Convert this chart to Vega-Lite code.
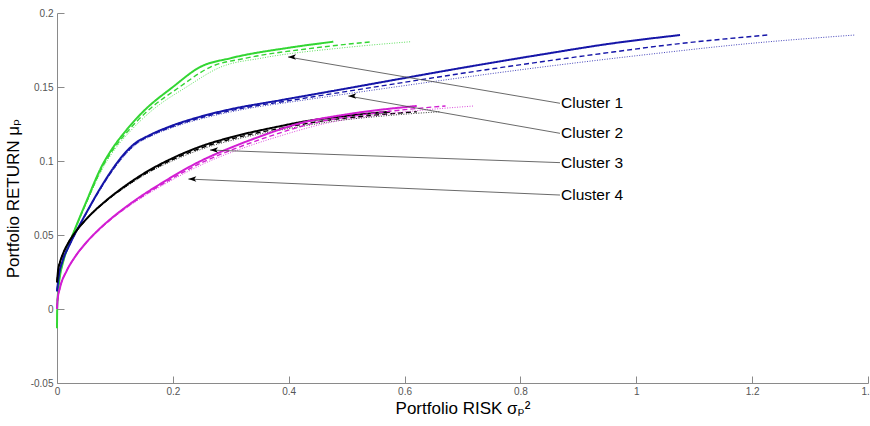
{
"$schema": "https://vega.github.io/schema/vega-lite/v6.json",
"width": 811, "height": 370,
"autosize": {"type": "none"},
"padding": {"left": 57, "top": 13, "right": 2, "bottom": 43},
"background": "white",
"config": {"view": {"stroke": null},
 "axis": {"grid": false, "domainColor": "#8a8a8a", "tickColor": "#8a8a8a", "tickSize": -7, "labelColor": "#555555", "labelFont": "Liberation Sans", "labelFontSize": 10, "titleFont": "Liberation Sans, DejaVu Sans", "titleFontSize": 17, "titleFontWeight": "normal", "titleColor": "#000000"}},
"datasets": {
"curves": [
{"c":"C1","s":"solid","x":0,"y":-0.013},{"c":"C1","s":"solid","x":0.0003,"y":0},{"c":"C1","s":"solid","x":0.002,"y":0.012},{"c":"C1","s":"solid","x":0.005,"y":0.022},{"c":"C1","s":"solid","x":0.01,"y":0.031},{"c":"C1","s":"solid","x":0.02,"y":0.043},{"c":"C1","s":"solid","x":0.031,"y":0.054},{"c":"C1","s":"solid","x":0.05,"y":0.072},{"c":"C1","s":"solid","x":0.08,"y":0.0985},{"c":"C1","s":"solid","x":0.0915,"y":0.106},{"c":"C1","s":"solid","x":0.12,"y":0.121},{"c":"C1","s":"solid","x":0.149,"y":0.1335},{"c":"C1","s":"solid","x":0.2,"y":0.15},{"c":"C1","s":"solid","x":0.247,"y":0.1635},{"c":"C1","s":"solid","x":0.3,"y":0.1695},{"c":"C1","s":"solid","x":0.4,"y":0.1765},{"c":"C1","s":"solid","x":0.477,"y":0.1806},
{"c":"C1","s":"dashed","x":0,"y":0},{"c":"C1","s":"dashed","x":0.002,"y":0.012},{"c":"C1","s":"dashed","x":0.005,"y":0.022},{"c":"C1","s":"dashed","x":0.01,"y":0.031},{"c":"C1","s":"dashed","x":0.0201,"y":0.043},{"c":"C1","s":"dashed","x":0.0313,"y":0.054},{"c":"C1","s":"dashed","x":0.0507,"y":0.072},{"c":"C1","s":"dashed","x":0.0819,"y":0.0985},{"c":"C1","s":"dashed","x":0.094,"y":0.106},{"c":"C1","s":"dashed","x":0.1242,"y":0.121},{"c":"C1","s":"dashed","x":0.1555,"y":0.1335},{"c":"C1","s":"dashed","x":0.2117,"y":0.15},{"c":"C1","s":"dashed","x":0.2649,"y":0.1635},{"c":"C1","s":"dashed","x":0.3264,"y":0.1695},{"c":"C1","s":"dashed","x":0.447,"y":0.1765},{"c":"C1","s":"dashed","x":0.5438,"y":0.1806},
{"c":"C1","s":"dotted","x":0,"y":0},{"c":"C1","s":"dotted","x":0.002,"y":0.012},{"c":"C1","s":"dotted","x":0.005,"y":0.022},{"c":"C1","s":"dotted","x":0.0101,"y":0.031},{"c":"C1","s":"dotted","x":0.0202,"y":0.043},{"c":"C1","s":"dotted","x":0.0316,"y":0.054},{"c":"C1","s":"dotted","x":0.0515,"y":0.072},{"c":"C1","s":"dotted","x":0.0838,"y":0.0985},{"c":"C1","s":"dotted","x":0.0964,"y":0.106},{"c":"C1","s":"dotted","x":0.1285,"y":0.121},{"c":"C1","s":"dotted","x":0.162,"y":0.1335},{"c":"C1","s":"dotted","x":0.2235,"y":0.15},{"c":"C1","s":"dotted","x":0.2828,"y":0.1635},{"c":"C1","s":"dotted","x":0.3528,"y":0.1695},{"c":"C1","s":"dotted","x":0.4939,"y":0.1765},{"c":"C1","s":"dotted","x":0.6106,"y":0.1806},
{"c":"C2","s":"solid","x":0,"y":0.012},{"c":"C2","s":"solid","x":0.003,"y":0.022},{"c":"C2","s":"solid","x":0.01,"y":0.033},{"c":"C2","s":"solid","x":0.02,"y":0.042},{"c":"C2","s":"solid","x":0.03,"y":0.05},{"c":"C2","s":"solid","x":0.045,"y":0.061},{"c":"C2","s":"solid","x":0.0627,"y":0.0735},{"c":"C2","s":"solid","x":0.08,"y":0.085},{"c":"C2","s":"solid","x":0.0915,"y":0.092},{"c":"C2","s":"solid","x":0.105,"y":0.0995},{"c":"C2","s":"solid","x":0.1317,"y":0.111},{"c":"C2","s":"solid","x":0.16,"y":0.1175},{"c":"C2","s":"solid","x":0.1894,"y":0.1225},{"c":"C2","s":"solid","x":0.247,"y":0.1299},{"c":"C2","s":"solid","x":0.3,"y":0.135},{"c":"C2","s":"solid","x":0.385,"y":0.141},{"c":"C2","s":"solid","x":0.5,"y":0.149},{"c":"C2","s":"solid","x":0.592,"y":0.1555},{"c":"C2","s":"solid","x":0.7,"y":0.163},{"c":"C2","s":"solid","x":0.845,"y":0.1725},{"c":"C2","s":"solid","x":0.95,"y":0.179},{"c":"C2","s":"solid","x":1.0755,"y":0.1851},
{"c":"C2","s":"dashed","x":0,"y":0.012},{"c":"C2","s":"dashed","x":0.003,"y":0.022},{"c":"C2","s":"dashed","x":0.01,"y":0.033},{"c":"C2","s":"dashed","x":0.0201,"y":0.042},{"c":"C2","s":"dashed","x":0.0301,"y":0.05},{"c":"C2","s":"dashed","x":0.0453,"y":0.061},{"c":"C2","s":"dashed","x":0.0632,"y":0.0735},{"c":"C2","s":"dashed","x":0.0808,"y":0.085},{"c":"C2","s":"dashed","x":0.0926,"y":0.092},{"c":"C2","s":"dashed","x":0.1064,"y":0.0995},{"c":"C2","s":"dashed","x":0.134,"y":0.111},{"c":"C2","s":"dashed","x":0.1633,"y":0.1175},{"c":"C2","s":"dashed","x":0.1941,"y":0.1225},{"c":"C2","s":"dashed","x":0.2549,"y":0.1299},{"c":"C2","s":"dashed","x":0.3117,"y":0.135},{"c":"C2","s":"dashed","x":0.4043,"y":0.141},{"c":"C2","s":"dashed","x":0.5326,"y":0.149},{"c":"C2","s":"dashed","x":0.6376,"y":0.1555},{"c":"C2","s":"dashed","x":0.7638,"y":0.163},{"c":"C2","s":"dashed","x":0.938,"y":0.1725},{"c":"C2","s":"dashed","x":1.0675,"y":0.179},{"c":"C2","s":"dashed","x":1.2261,"y":0.1851},
{"c":"C2","s":"dotted","x":0,"y":0.012},{"c":"C2","s":"dotted","x":0.003,"y":0.022},{"c":"C2","s":"dotted","x":0.01,"y":0.033},{"c":"C2","s":"dotted","x":0.0201,"y":0.042},{"c":"C2","s":"dotted","x":0.0302,"y":0.05},{"c":"C2","s":"dotted","x":0.0455,"y":0.061},{"c":"C2","s":"dotted","x":0.0637,"y":0.0735},{"c":"C2","s":"dotted","x":0.0817,"y":0.085},{"c":"C2","s":"dotted","x":0.0937,"y":0.092},{"c":"C2","s":"dotted","x":0.1079,"y":0.0995},{"c":"C2","s":"dotted","x":0.1362,"y":0.111},{"c":"C2","s":"dotted","x":0.1667,"y":0.1175},{"c":"C2","s":"dotted","x":0.1987,"y":0.1225},{"c":"C2","s":"dotted","x":0.2629,"y":0.1299},{"c":"C2","s":"dotted","x":0.3234,"y":0.135},{"c":"C2","s":"dotted","x":0.4236,"y":0.141},{"c":"C2","s":"dotted","x":0.5651,"y":0.149},{"c":"C2","s":"dotted","x":0.6832,"y":0.1555},{"c":"C2","s":"dotted","x":0.8275,"y":0.163},{"c":"C2","s":"dotted","x":1.0309,"y":0.1725},{"c":"C2","s":"dotted","x":1.1849,"y":0.179},{"c":"C2","s":"dotted","x":1.3766,"y":0.1851},
{"c":"C3","s":"solid","x":0,"y":0.018},{"c":"C3","s":"solid","x":0.002,"y":0.0265},{"c":"C3","s":"solid","x":0.005,"y":0.0314},{"c":"C3","s":"solid","x":0.01,"y":0.037},{"c":"C3","s":"solid","x":0.02,"y":0.045},{"c":"C3","s":"solid","x":0.03,"y":0.051},{"c":"C3","s":"solid","x":0.05,"y":0.0605},{"c":"C3","s":"solid","x":0.0858,"y":0.0736},{"c":"C3","s":"solid","x":0.12,"y":0.0838},{"c":"C3","s":"solid","x":0.15,"y":0.0916},{"c":"C3","s":"solid","x":0.2,"y":0.102},{"c":"C3","s":"solid","x":0.247,"y":0.1097},{"c":"C3","s":"solid","x":0.3,"y":0.116},{"c":"C3","s":"solid","x":0.385,"y":0.1235},{"c":"C3","s":"solid","x":0.4195,"y":0.1262},{"c":"C3","s":"solid","x":0.5,"y":0.1305},{"c":"C3","s":"solid","x":0.575,"y":0.1333},
{"c":"C3","s":"dashed","x":0,"y":0.018},{"c":"C3","s":"dashed","x":0.002,"y":0.0265},{"c":"C3","s":"dashed","x":0.005,"y":0.0314},{"c":"C3","s":"dashed","x":0.01,"y":0.037},{"c":"C3","s":"dashed","x":0.0201,"y":0.045},{"c":"C3","s":"dashed","x":0.0301,"y":0.051},{"c":"C3","s":"dashed","x":0.0503,"y":0.0605},{"c":"C3","s":"dashed","x":0.0868,"y":0.0736},{"c":"C3","s":"dashed","x":0.122,"y":0.0838},{"c":"C3","s":"dashed","x":0.1531,"y":0.0916},{"c":"C3","s":"dashed","x":0.2056,"y":0.102},{"c":"C3","s":"dashed","x":0.2555,"y":0.1097},{"c":"C3","s":"dashed","x":0.3125,"y":0.116},{"c":"C3","s":"dashed","x":0.4056,"y":0.1235},{"c":"C3","s":"dashed","x":0.444,"y":0.1262},{"c":"C3","s":"dashed","x":0.5348,"y":0.1305},{"c":"C3","s":"dashed","x":0.621,"y":0.1333},
{"c":"C3","s":"dotted","x":0,"y":0.018},{"c":"C3","s":"dotted","x":0.002,"y":0.0265},{"c":"C3","s":"dotted","x":0.005,"y":0.0314},{"c":"C3","s":"dotted","x":0.01,"y":0.037},{"c":"C3","s":"dotted","x":0.0201,"y":0.045},{"c":"C3","s":"dotted","x":0.0302,"y":0.051},{"c":"C3","s":"dotted","x":0.0507,"y":0.0605},{"c":"C3","s":"dotted","x":0.0877,"y":0.0736},{"c":"C3","s":"dotted","x":0.1238,"y":0.0838},{"c":"C3","s":"dotted","x":0.1559,"y":0.0916},{"c":"C3","s":"dotted","x":0.2104,"y":0.102},{"c":"C3","s":"dotted","x":0.2629,"y":0.1097},{"c":"C3","s":"dotted","x":0.3235,"y":0.116},{"c":"C3","s":"dotted","x":0.4237,"y":0.1235},{"c":"C3","s":"dotted","x":0.4654,"y":0.1262},{"c":"C3","s":"dotted","x":0.5652,"y":0.1305},{"c":"C3","s":"dotted","x":0.6613,"y":0.1333},
{"c":"C4","s":"solid","x":0,"y":0},{"c":"C4","s":"solid","x":0.001,"y":0.0063},{"c":"C4","s":"solid","x":0.005,"y":0.0141},{"c":"C4","s":"solid","x":0.0167,"y":0.0258},{"c":"C4","s":"solid","x":0.03,"y":0.0346},{"c":"C4","s":"solid","x":0.05,"y":0.0447},{"c":"C4","s":"solid","x":0.07,"y":0.0529},{"c":"C4","s":"solid","x":0.0915,"y":0.0605},{"c":"C4","s":"solid","x":0.115,"y":0.0678},{"c":"C4","s":"solid","x":0.135,"y":0.0735},{"c":"C4","s":"solid","x":0.18,"y":0.0849},{"c":"C4","s":"solid","x":0.247,"y":0.0998},{"c":"C4","s":"solid","x":0.3,"y":0.109},{"c":"C4","s":"solid","x":0.35,"y":0.1165},{"c":"C4","s":"solid","x":0.4195,"y":0.1255},{"c":"C4","s":"solid","x":0.5,"y":0.1315},{"c":"C4","s":"solid","x":0.621,"y":0.1372},
{"c":"C4","s":"dashed","x":0,"y":0},{"c":"C4","s":"dashed","x":0.001,"y":0.0063},{"c":"C4","s":"dashed","x":0.005,"y":0.0141},{"c":"C4","s":"dashed","x":0.0167,"y":0.0258},{"c":"C4","s":"dashed","x":0.0301,"y":0.0346},{"c":"C4","s":"dashed","x":0.0503,"y":0.0447},{"c":"C4","s":"dashed","x":0.0706,"y":0.0529},{"c":"C4","s":"dashed","x":0.0926,"y":0.0605},{"c":"C4","s":"dashed","x":0.1167,"y":0.0678},{"c":"C4","s":"dashed","x":0.1373,"y":0.0735},{"c":"C4","s":"dashed","x":0.1842,"y":0.0849},{"c":"C4","s":"dashed","x":0.2549,"y":0.0998},{"c":"C4","s":"dashed","x":0.3116,"y":0.109},{"c":"C4","s":"dashed","x":0.3658,"y":0.1165},{"c":"C4","s":"dashed","x":0.4422,"y":0.1255},{"c":"C4","s":"dashed","x":0.5322,"y":0.1315},{"c":"C4","s":"dashed","x":0.6707,"y":0.1372},
{"c":"C4","s":"dotted","x":0,"y":0},{"c":"C4","s":"dotted","x":0.001,"y":0.0063},{"c":"C4","s":"dotted","x":0.005,"y":0.0141},{"c":"C4","s":"dotted","x":0.0168,"y":0.0258},{"c":"C4","s":"dotted","x":0.0302,"y":0.0346},{"c":"C4","s":"dotted","x":0.0506,"y":0.0447},{"c":"C4","s":"dotted","x":0.0713,"y":0.0529},{"c":"C4","s":"dotted","x":0.0937,"y":0.0605},{"c":"C4","s":"dotted","x":0.1184,"y":0.0678},{"c":"C4","s":"dotted","x":0.1397,"y":0.0735},{"c":"C4","s":"dotted","x":0.1883,"y":0.0849},{"c":"C4","s":"dotted","x":0.2627,"y":0.0998},{"c":"C4","s":"dotted","x":0.3232,"y":0.109},{"c":"C4","s":"dotted","x":0.3816,"y":0.1165},{"c":"C4","s":"dotted","x":0.4648,"y":0.1255},{"c":"C4","s":"dotted","x":0.5644,"y":0.1315},{"c":"C4","s":"dotted","x":0.7203,"y":0.1372}
],
"ann": [
{"label":"Cluster 1","tipX":0.3988,"tipY":0.1703,"x":0.8683,"y":0.139},
{"label":"Cluster 2","tipX":0.5028,"tipY":0.1439,"x":0.8683,"y":0.1187},
{"label":"Cluster 3","tipX":0.2641,"tipY":0.1074,"x":0.8683,"y":0.0989},
{"label":"Cluster 4","tipX":0.2267,"tipY":0.0878,"x":0.8683,"y":0.077}
]},
"layer": [
{"data": {"name": "curves"},
 "mark": {"type": "line", "interpolate": "monotone"},
 "encoding": {
  "x": {"field": "x", "type": "quantitative", "scale": {"domain": [0, 1.4], "nice": false, "zero": false},
   "axis": {"title": "Portfolio RISK σₚ²", "values": [0, 0.2, 0.4, 0.6, 0.8, 1, 1.2, 1.4], "format": "~g", "labelFlush": false, "labelOverlap": false, "labelPadding": 10, "titlePadding": 4}},
  "y": {"field": "y", "type": "quantitative", "scale": {"domain": [-0.05, 0.2], "nice": false, "zero": false},
   "axis": {"title": "Portfolio RETURN μₚ", "values": [-0.05, 0, 0.05, 0.1, 0.15, 0.2], "labelExpr": "replace(format(datum.value, '~g'), '−', '-')", "labelOverlap": false, "labelPadding": 11, "titlePadding": 8}},
  "color": {"field": "c", "type": "nominal", "scale": {"domain": ["C1", "C2", "C3", "C4"], "range": ["#33d633", "#1515a8", "#000000", "#d21ed2"]}, "legend": null},
  "strokeDash": {"field": "s", "type": "nominal", "scale": {"domain": ["solid", "dashed", "dotted"], "range": [[1, 0], [5, 3], [1, 1.5]]}, "legend": null},
  "strokeWidth": {"field": "s", "type": "ordinal", "scale": {"domain": ["solid", "dashed", "dotted"], "range": [2, 0.8, 0.9]}, "legend": null}
 }},
{"data": {"name": "ann"},
 "mark": {"type": "rule", "color": "#444444", "strokeWidth": 0.8},
 "encoding": {"x": {"field": "tipX", "type": "quantitative"}, "y": {"field": "tipY", "type": "quantitative"}, "x2": {"field": "x"}, "y2": {"field": "y"}}},
{"data": {"name": "ann"},
 "mark": {"type": "point", "shape": "M0,0 L2,-0.7 L1.5,0 L2,0.7 Z", "filled": true, "color": "#000000", "opacity": 1, "size": 64, "strokeWidth": 0},
 "encoding": {"x": {"field": "tipX", "type": "quantitative"}, "y": {"field": "tipY", "type": "quantitative"}}},
{"data": {"name": "ann"},
 "mark": {"type": "text", "align": "left", "baseline": "middle", "dx": 1, "font": "Liberation Sans", "fontSize": 15.5, "color": "#000000"},
 "encoding": {"x": {"field": "x", "type": "quantitative"}, "y": {"field": "y", "type": "quantitative"}, "text": {"field": "label"}}}
]
}
